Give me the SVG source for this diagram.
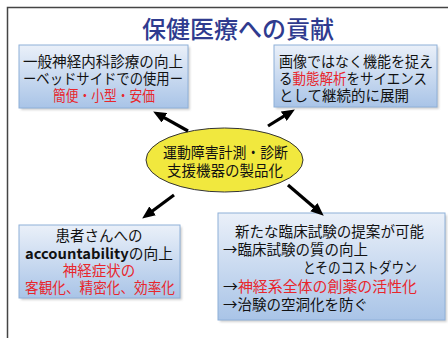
<svg xmlns="http://www.w3.org/2000/svg" width="448" height="338" viewBox="0 0 448 338">
<style>
.t{font-family:"Noto Sans CJK JP","Noto Sans",sans-serif;font-size:14.5px;fill:#111}
.r{fill:#e8262c}
.c{text-anchor:middle}
.box{fill:url(#g);stroke:#8eb0d8;stroke-width:1}
.sh{fill:#9a9a9a;opacity:0.45;filter:url(#blur)}
.arr{stroke:#000;stroke-width:3.2;fill:none;marker-end:url(#ah)}
</style>
<defs>
<linearGradient id="g" x1="0" y1="0" x2="0" y2="1">
<stop offset="0" stop-color="#eaf0f9"/>
<stop offset="1" stop-color="#a9c4e7"/>
</linearGradient>
<filter id="blur" x="-10%" y="-10%" width="120%" height="120%"><feGaussianBlur stdDeviation="1.2"/></filter>
<marker id="ah" markerUnits="userSpaceOnUse" markerWidth="13" markerHeight="11" refX="4" refY="5.5" orient="auto" viewBox="0 0 13 11">
<path d="M0,0 L13,5.5 L0,11 z" fill="#000"/>
</marker>
</defs>
<rect width="448" height="338" fill="#fff"/>
<path d="M7.5,338 V7.5 H448" fill="none" stroke="#444" stroke-width="1.5"/>
<text x="238" y="38" class="t c" style="font-size:24px;fill:#2f3b8f;font-weight:500">保健医療への貢献</text>

<g id="node-topleft">
<rect x="21" y="47" width="169" height="63" class="sh"/>
<rect x="19" y="45" width="169" height="63" class="box"/>
<text x="23" y="67" class="t" textLength="160" lengthAdjust="spacingAndGlyphs">一般神経内科診療の向上</text>
<text x="23" y="84" class="t" textLength="160" lengthAdjust="spacingAndGlyphs">ーベッドサイドでの使用ー</text>
<text x="53" y="101" class="t r" textLength="102" lengthAdjust="spacingAndGlyphs">簡便・小型・安価</text>
</g>

<g id="node-topright">
<rect x="276" y="47" width="163" height="62" class="sh"/>
<rect x="274" y="45" width="163" height="62" class="box"/>
<text x="279" y="67" class="t" textLength="154" lengthAdjust="spacingAndGlyphs">画像ではなく機能を捉え</text>
<text x="279" y="84" class="t" textLength="148" lengthAdjust="spacingAndGlyphs">る<tspan class="r">動態解析</tspan>をサイエンス</text>
<text x="279" y="101" class="t">として継続的に展開</text>
</g>

<g id="node-center">
<ellipse cx="224.5" cy="160" rx="78.5" ry="32" fill="#f1e83e" stroke="#333" stroke-width="1"/>
<text x="163" y="158" class="t" style="font-size:15px" textLength="125" lengthAdjust="spacingAndGlyphs">運動障害計測・診断</text>
<text x="225" y="176" class="t c" style="font-size:14.5px">支援機器の製品化</text>
</g>

<g id="node-bottomleft">
<rect x="21" y="227" width="161" height="73" class="sh"/>
<rect x="19" y="225" width="161" height="73" class="box"/>
<text x="99" y="241" class="t c">患者さんへの</text>
<text x="25" y="259" class="t" textLength="148" lengthAdjust="spacingAndGlyphs"><tspan font-weight="bold">accountability</tspan>の向上</text>
<text x="99" y="276" class="t c r">神経症状の</text>
<text x="25" y="293" class="t r" textLength="150" lengthAdjust="spacingAndGlyphs">客観化、精密化、効率化</text>
</g>

<g id="node-bottomright">
<rect x="220" y="215" width="227" height="107" class="sh"/>
<rect x="218" y="213" width="227" height="107" class="box"/>
<text x="235" y="237" class="t" textLength="189" lengthAdjust="spacingAndGlyphs">新たな臨床試験の提案が可能</text>
<text x="223" y="255" class="t">→臨床試験の質の向上</text>
<text x="303" y="273" class="t" textLength="114" lengthAdjust="spacingAndGlyphs">とそのコストダウン</text>
<text x="223" y="292" class="t" textLength="194" lengthAdjust="spacingAndGlyphs">→<tspan class="r">神経系全体の創薬の活性化</tspan></text>
<text x="223" y="310" class="t">→治験の空洞化を防ぐ</text>
</g>

<g id="connectors">
<line x1="188" y1="131" x2="161" y2="115.9" class="arr"/>
<line x1="268" y1="126" x2="287.2" y2="114.2" class="arr"/>
<line x1="174" y1="195" x2="149.4" y2="213.2" class="arr"/>
<line x1="288" y1="185" x2="316.9" y2="209.8" class="arr"/>
</g>
</svg>
